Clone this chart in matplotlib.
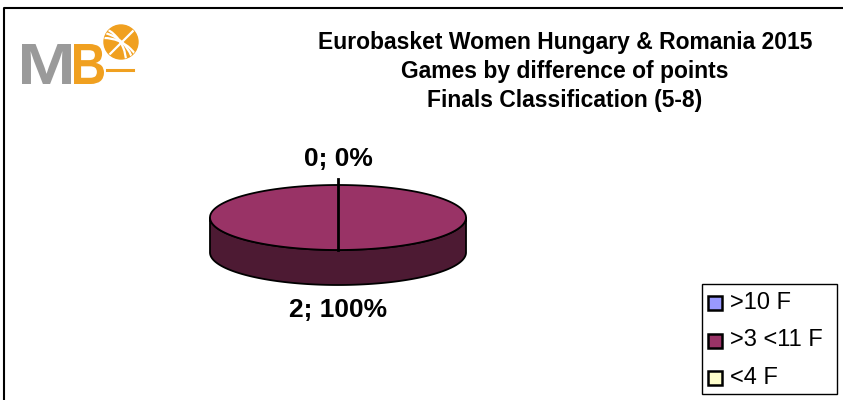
import numpy as np
import matplotlib
matplotlib.use("Agg")
import matplotlib.pyplot as plt
from matplotlib.patches import Polygon, Circle, Rectangle, Arc, PathPatch
from matplotlib.textpath import TextPath
from matplotlib.font_manager import FontProperties
from matplotlib.transforms import Affine2D

# ---- data ----
title_lines = ["Eurobasket Women Hungary & Romania 2015",
               "Games by difference of points",
               "Finals Classification (5-8)"]
categories = [">10 F", ">3 <11 F", "<4 F"]
values = [0, 2, 0]
top_colors = ["#9999FF", "#993366", "#FFFFCC"]
side_colors = ["#5c5c99", "#4d1a33", "#99997a"]

W, H = 843, 400
fig = plt.figure(figsize=(W / 100, H / 100), dpi=100)
ax = fig.add_axes([0, 0, 1, 1])
ax.set_xlim(0, W)
ax.set_ylim(H, 0)
ax.axis("off")
FONT = "Liberation Sans"

# frame (left and top edges visible)
ax.plot([3.5, 3.5, W + 5], [H + 5, 8, 8], color="black", lw=1.5, zorder=1)

# ---- logo ----
fp = FontProperties(family=FONT, weight="bold")

def boxed_letter(ch, x0, x1, y0, y1, color):
    tp = TextPath((0, 0), ch, size=100, prop=fp)
    bb = tp.get_extents()
    sx = (x1 - x0) / bb.width
    sy = (y1 - y0) / bb.height
    tr = (Affine2D().translate(-bb.x0, -bb.y0).scale(sx, -sy)
          .translate(x0, y1))
    ax.add_patch(PathPatch(tr.transform_path(tp), facecolor=color,
                           edgecolor="none", zorder=3))

boxed_letter("M", 22, 71, 44, 84, "#9a9a9a")
boxed_letter("B", 74, 104, 44, 84, "#f0a020")
ball = Circle((121, 42), 17, color="#f0a020", zorder=3)
ax.add_patch(ball)
for (cx0, cy0, r0) in [(96, 70, 38), (104, 76, 38), (88, 62, 38)]:
    a = Arc((cx0, cy0), 2 * r0, 2 * r0, theta1=0, theta2=360, color="white",
            lw=1.6, zorder=4)
    ax.add_patch(a)
    a.set_clip_path(ball)
ln, = ax.plot([106, 138], [58, 26], color="white", lw=1.6, zorder=4)
ln.set_clip_path(ball)
ax.plot([107, 133], [70, 70], color="#f0a020", lw=2.2, zorder=3)

# ---- title ----
for i, line in enumerate(title_lines):
    ax.text(565, 42 + 29.5 * i, line, fontsize=16.5, fontweight="bold",
            family=FONT, ha="center", va="center")

# ---- 3D pie ----
cx, cy, rx, ry, depth = 338, 217.5, 128, 32.5, 35
total = sum(values)
fracs = [v / total for v in values]
starts = np.cumsum([0] + fracs[:-1])

def pt(t):
    return cx + rx * np.cos(t), cy - ry * np.sin(t)

# sides (front half)
for f, s, c in zip(fracs, starts, side_colors):
    if f == 0:
        continue
    t1 = 90 - 360 * (s + f)
    t2 = 90 - 360 * s
    ts = np.deg2rad(np.linspace(t1, t2, 720))
    ts = np.mod(ts, 2 * np.pi)
    ts = np.sort(ts[ts >= np.pi])
    if ts.size < 2:
        continue
    x, y = pt(ts)
    verts = np.concatenate([np.column_stack([x, y]),
                            np.column_stack([x[::-1], y[::-1] + depth])])
    ax.add_patch(Polygon(verts, closed=True, facecolor=c, edgecolor="black",
                         lw=1.3, zorder=5))

# tops
for f, s, c in zip(fracs, starts, top_colors):
    if f == 0:
        continue
    t1 = np.deg2rad(90 - 360 * (s + f))
    t2 = np.deg2rad(90 - 360 * s)
    ts = np.linspace(t1, t2, 600)
    x, y = pt(ts)
    if f < 1:
        verts = np.column_stack([np.r_[cx, x], np.r_[cy, y]])
    else:
        verts = np.column_stack([x, y])
    ax.add_patch(Polygon(verts, closed=True, facecolor=c, edgecolor="black",
                         lw=1.3, zorder=6))

# slice boundary / leader line for the zero slices at 12 o'clock
ax.plot([cx, cx], [cy - ry - 6, cy + ry], color="black", lw=2, zorder=7)

# labels
ax.text(cx, 159, f"{values[0]}; {fracs[0]*100:.0f}%", fontsize=19, fontweight="bold",
        family=FONT, ha="center", va="center", zorder=8)
ax.text(cx, 310, f"{values[1]}; {fracs[1]*100:.0f}%", fontsize=19, fontweight="bold",
        family=FONT, ha="center", va="center", zorder=8)

# ---- legend ----
ax.add_patch(Rectangle((702, 284), 135, 110, facecolor="white", edgecolor="black",
                       lw=1, zorder=8))
for i, (lab, c) in enumerate(zip(categories, top_colors)):
    y0 = 303 + 37.5 * i
    ax.add_patch(Rectangle((708, y0 - 7), 14, 14, facecolor=c, edgecolor="black",
                           lw=1.8, zorder=9))
    ax.text(730, y0, lab, fontsize=17, family=FONT, ha="left", va="center", zorder=9)

fig.savefig("out.png", dpi=100)
